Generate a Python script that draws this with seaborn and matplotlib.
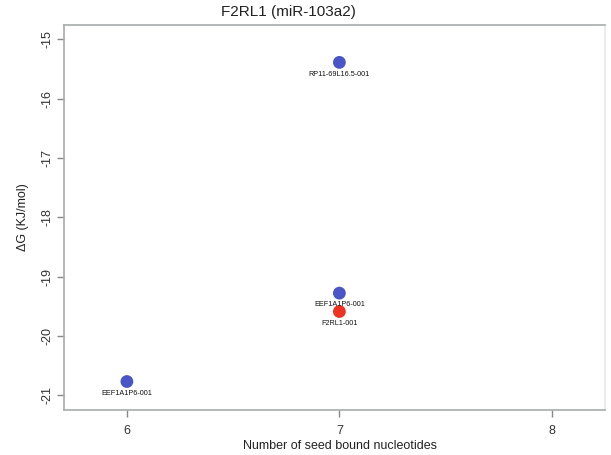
import matplotlib
matplotlib.use("Agg")
import matplotlib.pyplot as plt
import seaborn as sns
import pandas as pd

# Seed-bound nucleotide counts, binding energies and transcript names
seed_nt = [7, 7, 7, 6]
delta_g = [-15.39, -19.28, -19.59, -20.77]
transcripts = ["RP11-69L16.5-001", "EEF1A1P6-001", "F2RL1-001", "EEF1A1P6-001"]
kind = ["other", "other", "target", "other"]

x_ticks = [6, 7, 8]
y_ticks = [-15, -16, -17, -18, -19, -20, -21]

sns.set_style("white")
plt.rcParams["font.family"] = ["Liberation Sans", "DejaVu Sans"]

df = pd.DataFrame({"seed": seed_nt, "dg": delta_g, "name": transcripts, "kind": kind})

fig = plt.figure(figsize=(6.11, 4.55), dpi=100)
ax = fig.add_axes([64 / 611, 45 / 455, (605 - 64) / 611, (410 - 25) / 455])

sns.scatterplot(data=df, x="seed", y="dg", hue="kind",
                palette={"other": "#4a55c8", "target": "#ee3322"},
                s=85, edgecolor="none", legend=False, ax=ax, zorder=3)

for xv, yv, lab in zip(df["seed"], df["dg"], df["name"]):
    ax.annotate(lab, (xv, yv), xytext=(0, -6), textcoords="offset points",
                ha="center", va="top", fontsize=5.2, color="#111111")

ax.set_xlim(5.704, 8.25)
ax.set_ylim(-21.25, -14.76)
ax.set_xticks(x_ticks)
ax.set_yticks(y_ticks)
ax.set_xticklabels([str(v) for v in x_ticks], fontsize=9, color="#333333")
ax.set_yticklabels([str(v) for v in y_ticks], fontsize=9, color="#333333",
                   rotation=90, va="center")

for sp in ax.spines.values():
    sp.set_color("#a8acab")
    sp.set_linewidth(1.2)
ax.spines["right"].set_color("#e6e8e8")
ax.tick_params(axis="both", direction="out", length=5, width=1, color="#888888",
               bottom=True, left=True)
ax.tick_params(axis="y", pad=2.5)
ax.tick_params(axis="x", pad=6)

ax.set_ylabel("\u0394G (KJ/mol)", fontsize=9, color="#222222", labelpad=9)
ax.set_xlabel("Number of seed bound nucleotides", fontsize=9, color="#222222", labelpad=2)
ax.xaxis.label.set_x((340 - 64) / (605 - 64))

fig.text(288 / 611, 1 - 12 / 455, "F2RL1 (miR-103a2)", ha="center", va="center",
         fontsize=11, color="#222222")

fig.savefig("out.png", dpi=100)
